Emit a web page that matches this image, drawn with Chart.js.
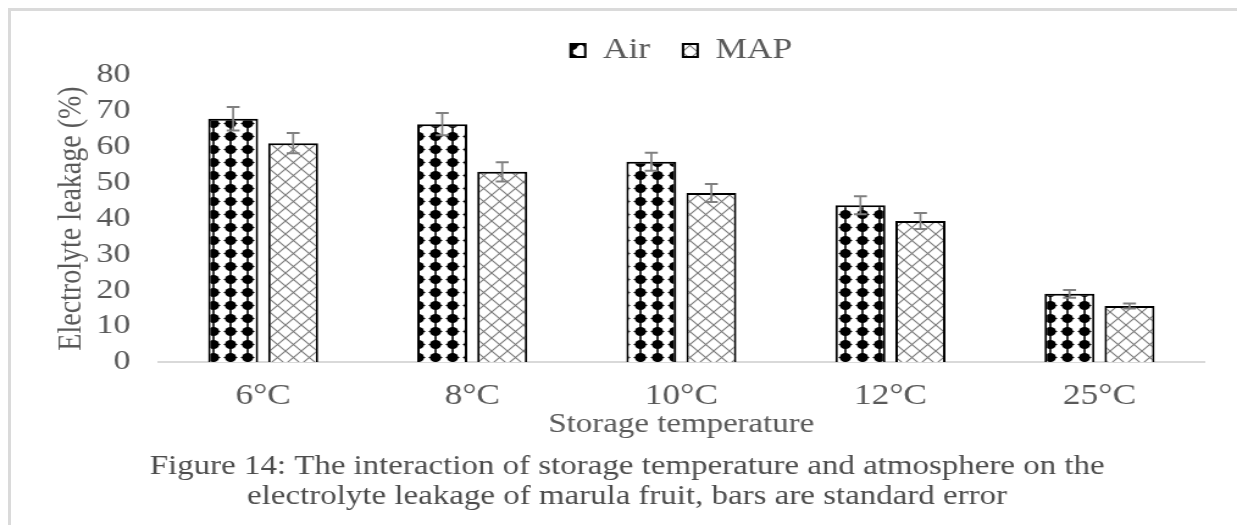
<!DOCTYPE html>
<html>
<head>
<meta charset="utf-8">
<script src="https://cdn.jsdelivr.net/npm/chart.js@4.4.1/dist/chart.umd.min.js"></script>
<style>
    html, body { margin: 0; padding: 0; background: #fff; }
    #frame {
        position: absolute; left: 8px; top: 8px; right: 0; bottom: 0;
        border-top: 3px solid #dadada; border-left: 3px solid #dadada;
    }
    /* the figure is drawn narrower and stretched sideways, like the scanned original */
    #chart { position: absolute; left: 0; top: 0; width: 1237px !important; height: 525px !important; }
</style>
</head>
<body>
<div id="frame"></div>
<canvas id="chart" width="1014" height="525" style="width:1237px;height:525px"></canvas>
<script>
const categories = ['6°C', '8°C', '10°C', '12°C', '25°C'];
const airValues = [67.8, 66.3, 55.8, 43.7, 19.0];
const airErrors = [3.3, 3.1, 2.5, 2.5, 1.1];
const mapValues = [61.0, 53.0, 47.1, 39.3, 15.6];
const mapErrors = [2.8, 2.7, 2.5, 2.2, 0.7];
const yTicks = [0, 10, 20, 30, 40, 50, 60, 70, 80];
const caption = [
    'Figure 14: The interaction of storage temperature and atmosphere on the',
    'electrolyte leakage of marula fruit, bars are standard error'
];

const textColor = '#595959';
const serif = "'Liberation Serif', 'Times New Roman', serif";

function airPattern() {
    const c = document.createElement('canvas');
    c.width = 14; c.height = 13;
    const g = c.getContext('2d');
    g.fillStyle = '#fff';
    g.fillRect(0, 0, 14, 13);
    g.fillStyle = '#000';
    // black star-shaped dots joined top to bottom
    g.fillRect(6.2, 0, 1.6, 13);
    g.beginPath();
    g.arc(7, 6.5, 4.6, 0, Math.PI * 2);
    g.fill();
    g.beginPath();
    g.moveTo(0.8, 6.5); g.lineTo(7, 4.2); g.lineTo(13.2, 6.5); g.lineTo(7, 8.8);
    g.closePath();
    g.fill();
    return g.createPattern(c, 'repeat');
}

function mapPattern() {
    const c = document.createElement('canvas');
    c.width = 13; c.height = 13;
    const g = c.getContext('2d');
    g.fillStyle = '#fff';
    g.fillRect(0, 0, 13, 13);
    g.strokeStyle = '#7a7a7a';
    g.lineWidth = 1.1;
    g.beginPath();
    g.moveTo(0, 0); g.lineTo(13, 13);
    g.moveTo(13, 0); g.lineTo(0, 13);
    g.stroke();
    return g.createPattern(c, 'repeat');
}

const errorBars = {
    id: 'errorBars',
    afterDatasetsDraw(chart) {
        const ctx = chart.ctx;
        const y = chart.scales.y;
        chart.data.datasets.forEach((ds, i) => {
            const meta = chart.getDatasetMeta(i);
            meta.data.forEach((bar, j) => {
                const v = ds.data[j];
                const e = ds.errors[j];
                const top = y.getPixelForValue(v + e);
                const bottom = y.getPixelForValue(v - e);
                ctx.save();
                ctx.strokeStyle = '#808080';
                ctx.lineWidth = 1.7;
                ctx.beginPath();
                ctx.moveTo(bar.x, top); ctx.lineTo(bar.x, bottom);
                ctx.stroke();
                ctx.lineWidth = 2;
                ctx.beginPath();
                ctx.moveTo(bar.x - 5.3, top); ctx.lineTo(bar.x + 5.3, top);
                ctx.moveTo(bar.x - 5.3, bottom); ctx.lineTo(bar.x + 5.3, bottom);
                ctx.stroke();
                ctx.restore();
            });
        });
    }
};

new Chart(document.getElementById('chart'), {
    type: 'bar',
    data: {
        labels: categories,
        datasets: [
            {
                label: 'Air',
                data: airValues,
                errors: airErrors,
                backgroundColor: airPattern(),
                borderColor: '#000',
                borderWidth: 2
            },
            {
                label: 'MAP',
                data: mapValues,
                errors: mapErrors,
                backgroundColor: mapPattern(),
                borderColor: '#000',
                borderWidth: 2
            }
        ]
    },
    options: {
        responsive: false,
        animation: false,
        categoryPercentage: 0.574,
        barPercentage: 0.833,
        layout: { padding: { left: 41, right: 27, top: 9, bottom: 13 } },
        scales: {
            x: {
                afterFit(scale) { scale.height = 78.5; },
                grid: { display: false, drawTicks: false },
                border: { display: true, color: '#d9d9d9', width: 2 },
                ticks: {
                    padding: 18,
                    color: textColor,
                    font: { family: serif, size: 29, lineHeight: 1.15 }
                },
                title: {
                    display: true,
                    text: 'Storage temperature',
                    color: textColor,
                    padding: { top: 0, bottom: 0 },
                    font: { family: serif, size: 27, lineHeight: 1.15 }
                }
            },
            y: {
                min: 0,
                max: 80,
                afterFit(scale) { scale.width = 89; },
                afterBuildTicks(scale) { scale.ticks = yTicks.map(v => ({ value: v })); },
                grid: { display: false, drawTicks: false },
                border: { display: false },
                ticks: {
                    autoSkip: false,
                    padding: 23,
                    color: textColor,
                    font: { family: serif, size: 28, lineHeight: 1.15 }
                },
                title: {
                    display: true,
                    text: 'Electrolyte leakage (%)',
                    color: textColor,
                    padding: { top: 2, bottom: 0 },
                    font: { family: serif, size: 28, lineHeight: 1.15 }
                }
            }
        },
        plugins: {
            legend: {
                position: 'top',
                fullSize: false,
                labels: {
                    boxWidth: 12,
                    boxHeight: 13,
                    padding: 27,
                    color: textColor,
                    font: { family: serif, size: 29 }
                }
            },
            title: {
                display: true,
                position: 'bottom',
                text: caption,
                color: '#4d4d4d',
                padding: { top: 11.5, bottom: 0 },
                font: { family: serif, size: 27, weight: 'normal', lineHeight: 1.111 }
            },
            tooltip: { enabled: false }
        }
    },
    plugins: [errorBars]
});
</script>
</body>
</html>
